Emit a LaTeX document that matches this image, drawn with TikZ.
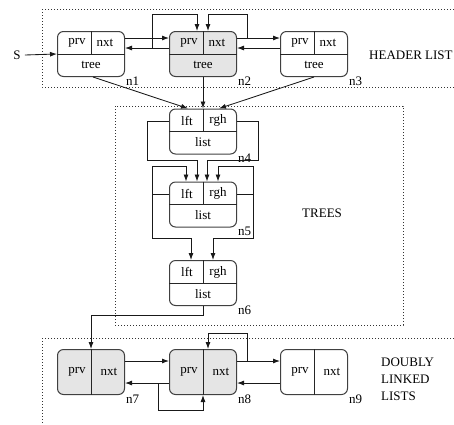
\documentclass[tikz,border=0pt]{standalone}
\usepackage{fontspec}
\setmainfont{Liberation Serif}
\usetikzlibrary{arrows.meta}
\tikzset{
  cell/.style={draw=black!75, line width=1pt, rounded corners=6pt,
    minimum width=67pt, minimum height=45pt, inner sep=0pt},
  shaded/.style={cell, fill=black!10},
  divider/.style={draw=black!85, line width=1pt},
  arr/.style={draw=black!90, line width=0.85pt, -{Latex[length=7pt,width=5pt]}},
  wire/.style={draw=black!90, line width=0.85pt},
  region/.style={draw=black!80, line width=0.7pt, dash pattern=on 0.7pt off 2.3pt},
  txt/.style={font=\fontsize{13}{15}\selectfont, inner sep=0pt},
  tag/.style={txt, anchor=west}
}
\begin{document}
\begin{tikzpicture}[x=1pt,y=-1pt]
\clip (0,0) rectangle (454,424);

% dotted regions
\draw[region] (42,9) rectangle (470,87);
\draw[region] (115,106) rectangle (403,325);
\draw[region] (42,338) rectangle (470,440);

% header list cells
\foreach \n/\s/\x in {n1/cell/91, n2/shaded/203, n3/cell/314}{
  \node[\s] (\n) at (\x,54) {};
  \draw[divider] (\n.west) -- (\n.east);
  \draw[divider] (\n.north) -- (\n.center);
  \node[txt] at ([xshift=-14pt,yshift=11pt]\n.center) {prv};
  \node[txt] at ([xshift=14pt,yshift=11pt]\n.center) {nxt};
  \node[txt] at ([yshift=-11pt]\n.center) {tree};
  \node[tag] at ([xshift=1pt,yshift=-4pt]\n.south east) {\n};
}

% tree cells
\foreach \n/\y in {n4/131.5, n5/204.5, n6/283}{
  \node[cell] (\n) at (203,\y) {};
  \draw[divider] (\n.west) -- (\n.east);
  \draw[divider] (\n.north) -- (\n.center);
  \node[txt] at ([xshift=-16pt,yshift=11pt]\n.center) {lft};
  \node[txt] at ([xshift=15pt,yshift=11pt]\n.center) {rgh};
  \node[txt] at ([yshift=-11pt]\n.center) {list};
  \node[tag] at ([xshift=1pt,yshift=-4pt]\n.south east) {\n};
}

% doubly linked list cells
\foreach \n/\s/\x in {n7/shaded/91, n8/shaded/203, n9/cell/314}{
  \node[\s] (\n) at (\x,372) {};
  \draw[divider] (\n.north) -- (\n.south);
  \node[txt] at ([xshift=-14pt]\n.center) {prv};
  \node[txt] at ([xshift=18pt]\n.center) {nxt};
  \node[tag] at ([xshift=1pt,yshift=-4pt]\n.south east) {\n};
}

% labels
\node[txt] (S) at (17,55) {S};
\node[tag] at (369,55) {HEADER LIST};
\node[tag] at (302,213) {TREES};
\node[tag, align=left, font=\fontsize{13}{17}\selectfont] at (381,379) {DOUBLY\\LINKED\\LISTS};

% header list links
\draw[arr] (S.east) ++(4,0) -- (n1.west);
\draw[arr] (n1.east |- 0,38) -- (n2.west |- 0,38);
\draw[arr] (n2.west |- 0,48) -- (n1.east |- 0,48);
\draw[arr] (n2.east |- 0,38) -- (n3.west |- 0,38);
\draw[arr] (n3.west |- 0,48) -- (n2.east |- 0,48);
\draw[arr] (152,48) |- (197,14) -- (197,0 |- n2.north);
\draw[arr] (247,38) |- (208,14) -- (208,0 |- n2.north);

% header list to trees
\draw[arr] ([xshift=2pt]n1.south) -- (188,0 |- n4.north);
\draw[arr] (n2.south) -- (n4.north);
\draw[arr] (n3.south) -- (219,0 |- n4.north);

% tree links
\draw[wire] (n4.west |- 0,121) -- (147,121);
\draw[arr] (147,121) |- (197,160) -- (197,0 |- n5.north);
\draw[wire] (n4.east |- 0,121) -- (258,121);
\draw[arr] (258,121) |- (207,160) -- (207,0 |- n5.north);
\draw[wire] (n5.west |- 0,194) -- (152,194);
\draw[arr] (152,194) |- (186,166) -- (186,0 |- n5.north);
\draw[arr] (152,194) |- (191,238) -- (191,0 |- n6.north);
\draw[wire] (n5.east |- 0,194) -- (253,194);
\draw[arr] (253,194) |- (218,166) -- (218,0 |- n5.north);
\draw[arr] (253,194) |- (213,238) -- (213,0 |- n6.north);

% tree to list
\draw[arr] (n6.south) -- (n6.south |- 0,315) -| (n7.north);

% doubly linked list links
\draw[arr] (n7.east |- 0,361) -- (n8.west |- 0,361);
\draw[arr] (n8.west |- 0,383) -- (n7.east |- 0,383);
\draw[arr] (n8.east |- 0,361) -- (n9.west |- 0,361);
\draw[arr] (n9.west |- 0,383) -- (n8.east |- 0,383);
\draw[arr] (247,361) |- (208,333) -- (208,0 |- n8.north);
\draw[arr] (158,383) |- (n8.south |- 0,410) -- (n8.south);
\end{tikzpicture}
\end{document}
